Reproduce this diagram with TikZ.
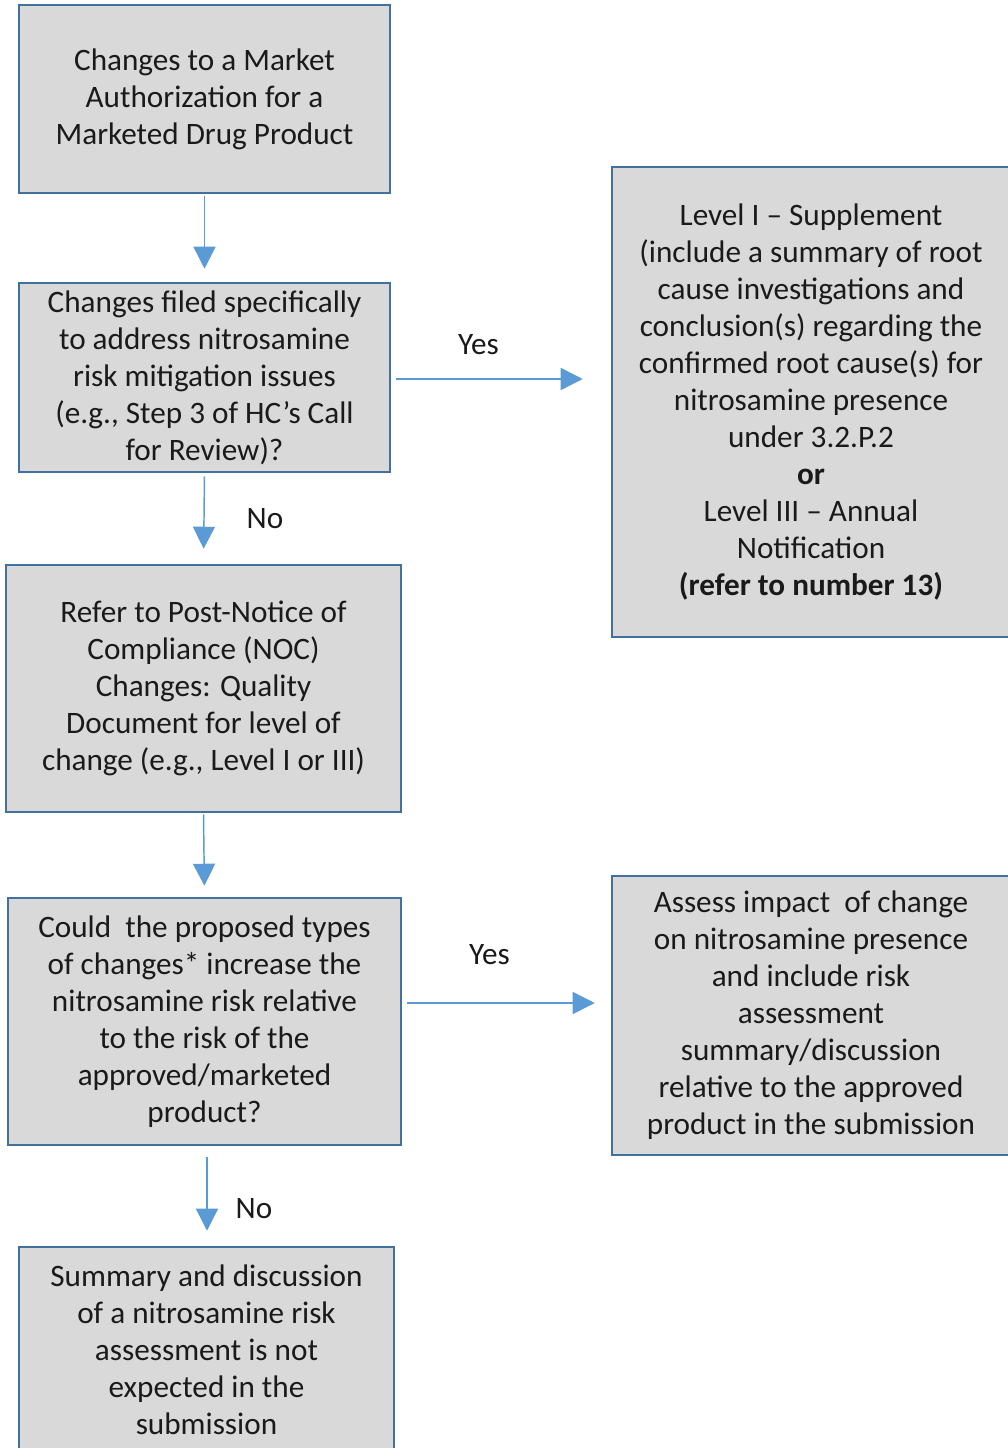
\documentclass[tikz,border=0pt]{standalone}
\usepackage{fontspec}
\setmainfont{Carlito}
\usepackage{tikz}
\usetikzlibrary{arrows,arrows.meta}
\usetikzlibrary{calc}
\definecolor{boxfill}{HTML}{D9D9D9}
\definecolor{boxline}{HTML}{41719C}
\definecolor{flowblue}{HTML}{5B9BD5}
\definecolor{inktext}{HTML}{1A1A1A}
\tikzstyle{stepbox} = [%
					draw = boxline,
					fill = boxfill,
					line width = 1.9pt,
					align = center,
					inner sep = 0pt,
					text = inktext,
					font = \fontsize{23.4}{27.75}\selectfont
					]
\tikzstyle{flow} = [%
					draw = flowblue,
					line width = 1.1pt,
					-{Triangle[width=16.5pt,length=16.5pt]}
					]
\tikzstyle{lbl} = [text = inktext, font = \fontsize{23.4}{27.75}\selectfont]

\begin{document}
\begin{tikzpicture}[x=0.75pt,y=-0.75pt]

	\useasboundingbox (0,0) rectangle (1007,1448);

	% Boxes
	\node[stepbox, minimum width=278.25pt, minimum height=141pt] (start) at (204.5,99) {Changes to a Market\\Authorization for a\\Marketed Drug Product};
	\node[stepbox, minimum width=278.25pt, minimum height=141.75pt] (filed) at (204.5,377.5) {Changes filed specifically\\to address nitrosamine\\risk mitigation issues\\(e.g., Step 3 of HC’s Call\\for Review)?};
	\node[stepbox, minimum width=298.5pt, minimum height=352.5pt] (level) at (811,402) {Level I – Supplement\\(include a summary of root\\cause investigations and\\conclusion(s) regarding the\\confirmed root cause(s) for\\nitrosamine presence\\under 3.2.P.2\\\textbf{or}\\Level III – Annual\\Notification\\\textbf{(refer to number 13)}};
	\node[stepbox, minimum width=296.25pt, minimum height=185.25pt] (post) at (203.5,688.5) {Refer to Post-Notice of\\Compliance (NOC)\\Changes: Quality\\Document for level of\\change (e.g., Level I or III)};
	\node[stepbox, minimum width=294.75pt, minimum height=185.25pt] (could) at (204.5,1021.5) {Could \ the proposed types\\of changes* increase the\\nitrosamine risk relative\\to the risk of the\\approved/marketed\\product?};
	\node[stepbox, minimum width=298.5pt, minimum height=209.25pt] (assess) at (811,1015.5) {Assess impact \ of change\\on nitrosamine presence\\and include risk\\assessment\\summary/discussion\\relative to the approved\\product in the submission};
	\node[stepbox, minimum width=281.25pt, minimum height=154.5pt] (summary) at (206.5,1350) {Summary and discussion\\of a nitrosamine risk\\assessment is not\\expected in the\\submission};

	% Coordinates
	\coordinate (y1) at (396,379);
	\coordinate (y2) at (407,1003);
	\coordinate (n2) at (207,1157);

	% Arrows
	\draw[flow, shorten <=1.5pt, shorten >=9.75pt] (start.south) -- (filed.north);
	\draw[flow, shorten >=21pt] (y1) -- (y1 -| level.west) node[lbl, pos=0.384, yshift=25.5pt] {Yes};
	\draw[flow, shorten <=2.25pt, shorten >=11.25pt] (filed.south) -- (post.north) node[lbl, pos=0.505, xshift=45.75pt] {No};
	\draw[flow, shorten <=0.75pt, shorten >=8.25pt] (post.south) -- (could.north);
	\draw[flow, shorten >=12pt] (y2) -- (y2 -| assess.west) node[lbl, pos=0.405, yshift=36pt] {Yes};
	\draw[flow, shorten >=11.25pt] (n2) -- (n2 |- summary.north) node[lbl, pos=0.58, xshift=35.25pt] {No};

\end{tikzpicture}
\end{document}
